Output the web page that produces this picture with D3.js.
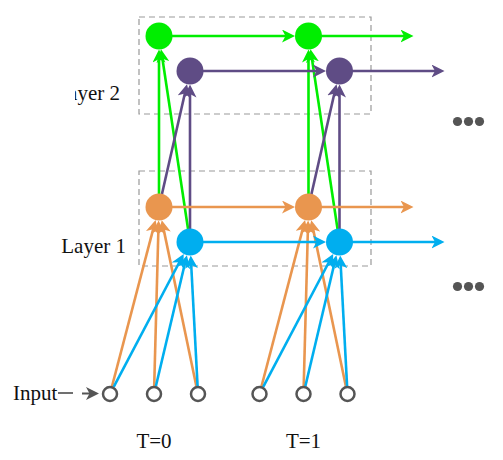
<!DOCTYPE html>
<html>
<head>
<meta charset="utf-8">
<script src="https://cdn.jsdelivr.net/npm/d3@7"></script>
<style>
  body { margin: 0; background: #fff; }
  text { font-family: "Liberation Serif", "DejaVu Serif", serif; fill: #111; }
</style>
</head>
<body>
<svg id="chart" width="503" height="460"></svg>
<script>
// data
const steps = ["T=0", "T=1"]
const layerNames = ["Layer 1", "Layer 2"]
const inputIds = ["x1", "x2", "x3"]
const unitIds = ["h1a", "h1b", "h2a", "h2b"]   // two units per layer
const unitLayer = [0, 0, 1, 1]
const unitSlot = [0, 1, 0, 1]
const inputLinks = ["h1a", "h1b"]                // every input feeds both layer-1 units
const upLinks = [["h1b", "h2a"], ["h1a", "h2a"], ["h1a", "h2b"], ["h1b", "h2b"]]

const unitColor = d3.scaleOrdinal()
  .domain(unitIds)
  .range(["#e9964f", "#00aeef", "#00ee00", "#5f4c85"])
const gray = "#555"

// layout
const svg = d3.select("#chart")
const xStep = d3.scaleLinear().domain([0, 1]).range([159, 308.5])
const yLayer = d3.scaleLinear().domain([0, 1]).range([207, 36])
const xInput = d3.scalePoint().domain(inputIds).range([-49, 39])
const slotDx = 31, slotDy = 35
const R = 13.5, rIn = 7
const inputY = 394
const boxes = [{y0: 171, y1: 266}, {y0: 17, y1: 114}]

function unitPos(id, t) {
  let i = unitIds.indexOf(id)
  return {x: xStep(t) + unitSlot[i] * slotDx, y: yLayer(unitLayer[i]) + unitSlot[i] * slotDy}
}

// arrow markers, one per colour
const defs = svg.append("defs")
const markerColors = unitColor.range().concat([gray])
markerColors.forEach((c, i) => {
  defs.append("marker")
    .attr("id", "arr" + i)
    .attr("markerUnits", "userSpaceOnUse")
    .attr("viewBox", "0 -6.5 13 13")
    .attr("markerWidth", 13).attr("markerHeight", 13)
    .attr("refX", 9).attr("refY", 0)
    .attr("orient", "auto")
    .append("path")
    .attr("d", "M0,-6.5L13,0L0,6.5L3.5,0Z")
    .attr("fill", c)
})
const markerOf = c => "url(#arr" + markerColors.indexOf(c) + ")"

// the left part of the "Layer 2" label is cut off in the figure
defs.append("clipPath").attr("id", "cut")
  .append("rect").attr("x", 75).attr("y", 0).attr("width", 428).attr("height", 460)

// dashed layer boxes
svg.selectAll("rect.box")
  .data(boxes)
  .join("rect")
  .attr("class", "box")
  .attr("x", 139).attr("width", 232)
  .attr("y", d => d.y0).attr("height", d => d.y1 - d.y0)
  .attr("fill", "none")
  .attr("stroke", "#999")
  .attr("stroke-width", 1.2)
  .attr("stroke-dasharray", "6,4")

// build the arrows: start at source (shortened by r1), tip at target edge (r2)
let arrows = []
function addArrow(a, b, r1, r2, color) {
  let dx = b.x - a.x, dy = b.y - a.y
  let len = Math.sqrt(dx * dx + dy * dy)
  let ux = dx / len, uy = dy / len
  arrows.push({
    x1: a.x + ux * r1, y1: a.y + uy * r1,
    x2: b.x - ux * (r2 + 4), y2: b.y - uy * (r2 + 4),
    color: color
  })
}

steps.forEach((s, t) => {
  inputLinks.forEach(u => {
    inputIds.forEach(inp => {
      addArrow({x: xStep(t) + xInput(inp), y: inputY}, unitPos(u, t), rIn + 1, R, unitColor(u))
    })
  })
})
steps.forEach((s, t) => {
  upLinks.forEach(([a, b]) => addArrow(unitPos(a, t), unitPos(b, t), 0, R, unitColor(b)))
})
unitIds.forEach(u => {
  let p0 = unitPos(u, 0), p1 = unitPos(u, 1)
  addArrow(p0, p1, 0, R, unitColor(u))
  addArrow(p1, {x: p1.x + 105, y: p1.y}, 0, 0, unitColor(u))
})

svg.selectAll("line.link")
  .data(arrows)
  .join("line")
  .attr("class", "link")
  .attr("x1", d => d.x1).attr("y1", d => d.y1)
  .attr("x2", d => d.x2).attr("y2", d => d.y2)
  .attr("stroke", d => d.color)
  .attr("stroke-width", 2.6)
  .attr("marker-end", d => markerOf(d.color))

// hidden units
let units = []
steps.forEach((s, t) => unitIds.forEach(u => units.push(Object.assign({id: u}, unitPos(u, t)))))
svg.selectAll("circle.unit")
  .data(units)
  .join("circle")
  .attr("class", "unit")
  .attr("cx", d => d.x).attr("cy", d => d.y)
  .attr("r", R)
  .attr("fill", d => unitColor(d.id))

// input units
let inputs = []
steps.forEach((s, t) => inputIds.forEach(i => inputs.push({x: xStep(t) + xInput(i), y: inputY})))
svg.selectAll("circle.input")
  .data(inputs)
  .join("circle")
  .attr("class", "input")
  .attr("cx", d => d.x).attr("cy", d => d.y)
  .attr("r", rIn)
  .attr("fill", "#fff")
  .attr("stroke", gray)
  .attr("stroke-width", 2.5)

// labels
svg.append("text").attr("x", 126).attr("y", boxes[0].y1 - 13)
  .attr("text-anchor", "end").attr("font-size", 21).text(layerNames[0])
svg.append("text").attr("x", 120).attr("y", boxes[1].y1 - 14)
  .attr("text-anchor", "end").attr("font-size", 21)
  .attr("clip-path", "url(#cut)").text(layerNames[1])

svg.selectAll("text.step")
  .data(steps)
  .join("text")
  .attr("class", "step")
  .attr("x", (d, i) => xStep(i) - 5)
  .attr("y", 448)
  .attr("text-anchor", "middle")
  .attr("font-size", 21)
  .text(d => d)

svg.append("text").attr("x", 13).attr("y", 400).attr("font-size", 21).text("Input")
svg.append("line").attr("x1", 58).attr("x2", 73).attr("y1", 393).attr("y2", 393)
  .attr("stroke", "#333").attr("stroke-width", 1.4)
svg.append("line").attr("x1", 82).attr("x2", 95).attr("y1", 393.5).attr("y2", 393.5)
  .attr("stroke", gray).attr("stroke-width", 2)
  .attr("marker-end", markerOf(gray))

// ellipsis on the right
const dotRows = [121.5, 286.5]
dotRows.forEach(y => {
  svg.selectAll(null)
    .data([0, 1, 2])
    .join("circle")
    .attr("cx", d => 457.5 + d * 11)
    .attr("cy", y)
    .attr("r", 4.6)
    .attr("fill", gray)
})
</script>
</body>
</html>
